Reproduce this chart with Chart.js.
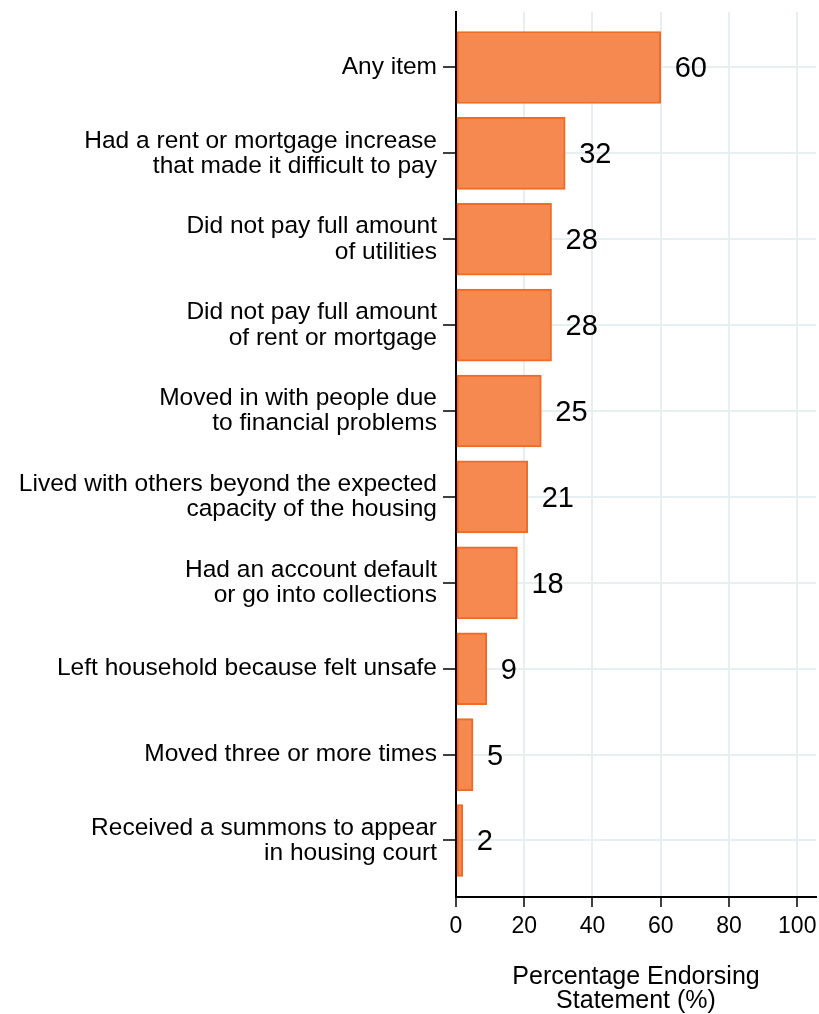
<!DOCTYPE html>
<html>
<head>
<meta charset="utf-8">
<script src="https://cdn.jsdelivr.net/npm/chart.js@4/dist/chart.umd.min.js"></script>
<style>
  html, body { margin: 0; padding: 0; background: #fff; }
  #chart { display: block; }
</style>
</head>
<body>
<canvas id="chart" width="819" height="1014"></canvas>
<script>
// Categorías (etiquetas del eje y, en orden de arriba a abajo)
const categories = [
  'Any item',
  ['Had a rent or mortgage increase', 'that made it difficult to pay'],
  ['Did not pay full amount', 'of utilities'],
  ['Did not pay full amount', 'of rent or mortgage'],
  ['Moved in with people due', 'to financial problems'],
  ['Lived with others beyond the expected', 'capacity of the housing'],
  ['Had an account default', 'or go into collections'],
  'Left household because felt unsafe',
  'Moved three or more times',
  ['Received a summons to appear', 'in housing court']
];
const values = [60, 32, 28, 28, 25, 21, 18, 9, 5, 2];
const xTicks = [0, 20, 40, 60, 80, 100];
const xTitle = ['Percentage Endorsing', 'Statement (%)'];

const FONT = "'Liberation Sans', Arial, Helvetica, sans-serif";
const GRID = '#e6eff1';

// Etiquetas de valor al final de cada barra
const valueLabels = {
  id: 'valueLabels',
  afterDatasetsDraw(chart) {
    const ctx = chart.ctx;
    const meta = chart.getDatasetMeta(0);
    ctx.save();
    ctx.fillStyle = '#000';
    ctx.font = '29px ' + FONT;
    ctx.textAlign = 'left';
    ctx.textBaseline = 'middle';
    meta.data.forEach((bar, i) => {
      ctx.fillText(String(values[i]), bar.x + 14, bar.y + 2);
    });
    ctx.restore();
  }
};

const ctx = document.getElementById('chart').getContext('2d');
new Chart(ctx, {
  type: 'bar',
  data: {
    datasets: [{
      data: values.map((v, i) => ({ x: v, y: i })),
      backgroundColor: '#f5894f',
      borderColor: '#f26a24',
      borderWidth: 2,
      borderSkipped: false,
      barThickness: 72
    }]
  },
  options: {
    indexAxis: 'y',
    responsive: false,
    animation: false,
    layout: { padding: { top: 12, right: 3, left: 0, bottom: 0 } },
    plugins: {
      legend: { display: false },
      tooltip: { enabled: false }
    },
    scales: {
      x: {
        type: 'linear',
        min: 0,
        max: 105.5,
        afterBuildTicks: (scale) => { scale.ticks = xTicks.map(v => ({ value: v })); },
        afterFit: (scale) => { scale.height = 117; scale.paddingRight = 0; scale.paddingLeft = 0; },
        border: { color: '#000', width: 2 },
        grid: {
          color: GRID,
          lineWidth: 2,
          tickColor: '#000',
          tickWidth: 1.5,
          tickLength: 10
        },
        ticks: {
          color: '#000',
          font: { family: FONT, size: 23 },
          padding: 6,
          maxRotation: 0
        },
        title: {
          display: true,
          text: xTitle,
          color: '#000',
          font: { family: FONT, size: 25, lineHeight: 0.95 },
          padding: { top: 4, bottom: 1 }
        }
      },
      y: {
        type: 'linear',
        reverse: true,
        offset: false,
        min: -0.646,
        max: 9.658,
        afterBuildTicks: (scale) => { scale.ticks = categories.map((c, i) => ({ value: i })); },
        afterFit: (scale) => { scale.width = 456; scale.paddingTop = 0; scale.paddingBottom = 0; },
        border: { color: '#000', width: 2 },
        grid: {
          offset: false,
          color: GRID,
          lineWidth: 2,
          tickColor: '#000',
          tickWidth: 1.5,
          tickLength: 13
        },
        ticks: {
          color: '#000',
          font: { family: FONT, size: 24.5, lineHeight: 1.03 },
          padding: 6,
          callback: (value) => categories[value]
        }
      }
    }
  },
  plugins: [valueLabels]
});
</script>
</body>
</html>
